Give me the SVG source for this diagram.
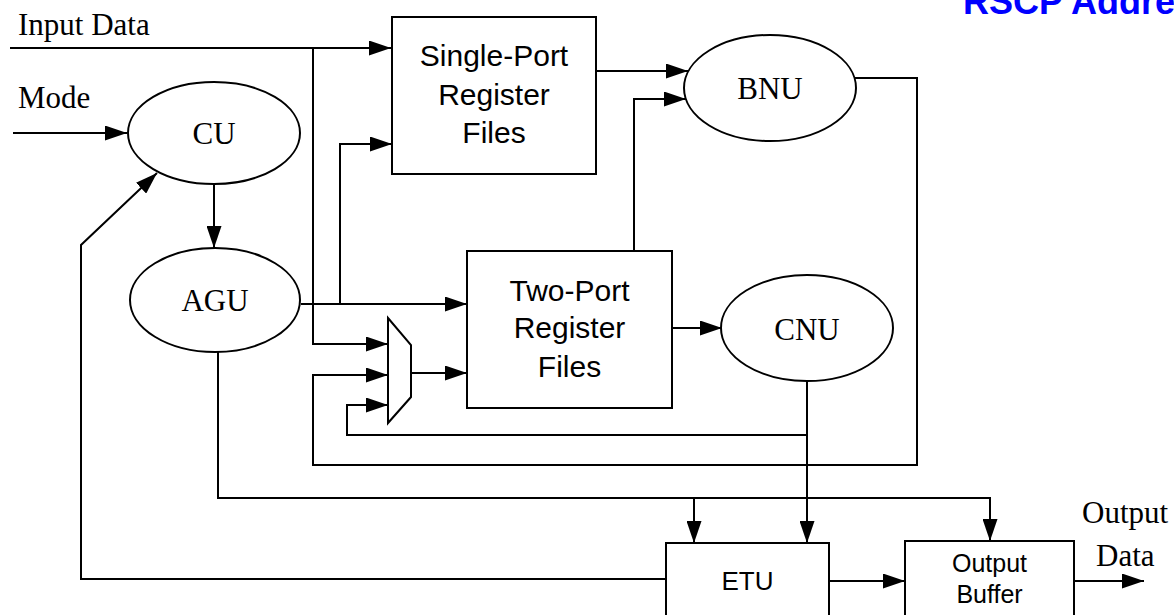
<svg xmlns="http://www.w3.org/2000/svg" width="1174" height="615" viewBox="0 0 1174 615">
  <style>
    .arr { fill: none; stroke: #000; stroke-width: 2; marker-end: url(#ah); }
    .shape { fill: #fff; stroke: #000; stroke-width: 2; }
    .serif { font-family: "Liberation Serif", "Times New Roman", serif; font-size: 31px; fill: #000; }
    .sans { font-family: "Liberation Sans", Arial, sans-serif; font-size: 30px; fill: #000; text-anchor: middle; }
    .sans-sm { font-family: "Liberation Sans", Arial, sans-serif; font-size: 25px; fill: #000; text-anchor: middle; }
    .mid { text-anchor: middle; }
    .title { font-family: "Liberation Sans", Arial, sans-serif; font-size: 36px; font-weight: bold; fill: #0000ff; }
  </style>
  <defs>
    <marker id="ah" markerUnits="userSpaceOnUse" markerWidth="22" markerHeight="15" refX="22" refY="7.5" orient="auto">
      <path d="M0,0 L22,7.5 L0,15 Z" fill="#000"/>
    </marker>
  </defs>

  <rect width="1174" height="615" fill="#fff"/>

  <!-- page heading, running off the top-right corner -->
  <text class="title" x="963" y="14">RSCP Addre</text>

  <!-- external labels -->
  <text class="serif" x="18" y="35">Input Data</text>
  <text class="serif" x="18" y="108">Mode</text>
  <text class="serif" x="1082" y="523">Output</text>
  <text class="serif" x="1096" y="566">Data</text>

  <!-- connectors -->
  <g id="connectors">
    <path class="arr" d="M10,48 H391"/>
    <path class="arr" d="M313,48 V344 H388"/>
    <path class="arr" d="M13,133 H127"/>
    <path class="arr" d="M214,184 V248"/>
    <path class="arr" d="M301,304 H467"/>
    <path class="arr" d="M340,304 V144 H392"/>
    <path class="arr" d="M596,71 H688"/>
    <path class="arr" d="M634,251 V99 H686"/>
    <path class="arr" d="M672,328 H722"/>
    <path class="arr" d="M855,78 H917 V465 H313 V375 H388"/>
    <path class="arr" d="M807,381 V543"/>
    <path class="arr" d="M807,435 H347 V405 H388"/>
    <path class="arr" d="M411,373 H467"/>
    <path class="arr" d="M218,352 V498 H990 V541"/>
    <path class="arr" d="M694,498 V543"/>
    <path class="arr" d="M829,581 H905"/>
    <path class="arr" d="M1074,581 H1144"/>
    <path class="arr" d="M666,579 H81 V245 L157,173"/>
  </g>

  <g id="single-port">
    <rect class="shape" x="392" y="17" width="204" height="157"/>
    <text class="sans" x="494" y="66">Single-Port</text>
    <text class="sans" x="494" y="105">Register</text>
    <text class="sans" x="494" y="143">Files</text>
  </g>

  <g id="two-port">
    <rect class="shape" x="467" y="251" width="205" height="157"/>
    <text class="sans" x="569.5" y="301">Two-Port</text>
    <text class="sans" x="569.5" y="338">Register</text>
    <text class="sans" x="569.5" y="377">Files</text>
  </g>

  <g id="cu">
    <ellipse class="shape" cx="214" cy="133" rx="86" ry="51"/>
    <text class="serif mid" x="214" y="144">CU</text>
  </g>

  <g id="agu">
    <ellipse class="shape" cx="215" cy="300" rx="85" ry="52"/>
    <text class="serif mid" x="215" y="311">AGU</text>
  </g>

  <g id="bnu">
    <ellipse class="shape" cx="770" cy="88" rx="86" ry="53"/>
    <text class="serif mid" x="770" y="99">BNU</text>
  </g>

  <g id="cnu">
    <ellipse class="shape" cx="807" cy="328" rx="86" ry="53"/>
    <text class="serif mid" x="807" y="340">CNU</text>
  </g>

  <g id="mux">
    <polygon class="shape" points="388,318 411,345 411,397 388,423"/>
  </g>

  <g id="etu">
    <rect class="shape" x="666" y="543" width="163" height="90"/>
    <text class="sans-sm" x="747.5" y="590" style="font-size:26px">ETU</text>
  </g>

  <g id="output-buffer">
    <rect class="shape" x="905" y="541" width="169" height="90"/>
    <text class="sans-sm" x="989.5" y="572">Output</text>
    <text class="sans-sm" x="989.5" y="603">Buffer</text>
  </g>
</svg>
